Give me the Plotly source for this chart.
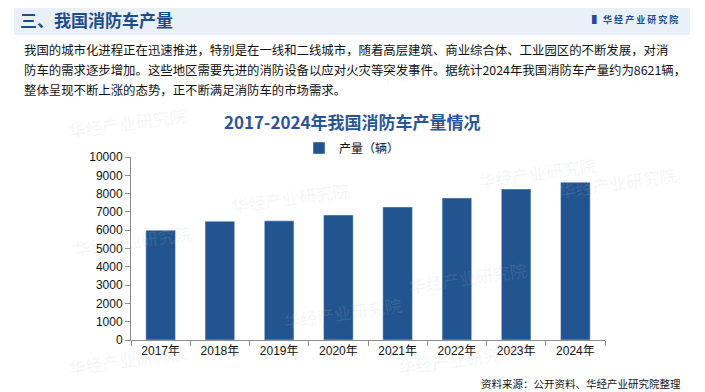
import plotly.graph_objects as go

years = ["2017年", "2018年", "2019年", "2020年", "2021年", "2022年", "2023年", "2024年"]
production = [6000, 6490, 6510, 6830, 7270, 7760, 8250, 8621]
y_ticks = [0, 1000, 2000, 3000, 4000, 5000, 6000, 7000, 8000, 9000, 10000]
y_tick_text = [str(v) for v in y_ticks]

OFF = 8  # page body margin
W, H = 705 - OFF, 392 - OFF
L = 131 - OFF
T = 157 - OFF
B = H - (340 - OFF)
R = W - (605 - OFF)
PW, PH = W - L - R, H - T - B

def px(x):
    return (x - OFF - L) / PW

def py(y):
    return 1 - (y - OFF - T) / PH

BAR = "#22548f"
TITLE = "#2a5596"
CJK = "Noto Sans CJK SC"
NUM = "Liberation Sans, Noto Sans CJK SC"

fig = go.Figure()
fig.add_trace(go.Bar(x=years, y=production, marker_color=BAR, name="产量（辆）",
                     showlegend=True))

shapes = [
    dict(type="rect", xref="paper", yref="paper", x0=px(14), x1=px(690), y0=py(5), y1=py(35),
         fillcolor="#eaf0f8", line_width=0, layer="below"),
]

ann = []
wm = [(500, 45), (65, 100), (600, 150), (290, 175), (70, 240), (530, 300), (280, 335),
      (65, 382), (520, 382), (680, 160)]
for (x, y) in wm:
    ann.append(dict(text="华经产业研究院", x=px(x), y=py(y), xref="paper", yref="paper",
                    showarrow=False, textangle=-8,
                    font=dict(family=CJK, size=17, color="rgba(190,195,205,0.16)")))

ann += [
    dict(text="<b>三、我国消防车产量</b>", x=px(18), y=py(20), xref="paper", yref="paper",
         xanchor="left", yanchor="middle", showarrow=False,
         font=dict(family=CJK, size=17, color="#1f4d8c")),
    dict(text="<b>▌ 华 经 产 业 研 究 院</b>", x=px(680), y=py(20), xref="paper", yref="paper",
         xanchor="right", yanchor="middle", showarrow=False,
         font=dict(family=CJK, size=9, color="#1f4d8c")),
]
lines = [
    "我国的城市化进程正在迅速推进，特别是在一线和二线城市，随着高层建筑、商业综合体、工业园区的不断发展，对消",
    "防车的需求逐步增加。这些地区需要先进的消防设备以应对火灾等突发事件。据统计2024年我国消防车产量约为8621辆，",
    "整体呈现不断上涨的态势，正不断满足消防车的市场需求。",
]
for i, t in enumerate(lines):
    ann.append(dict(text=t, x=px(22), y=py(50 + 20 * i), xref="paper", yref="paper",
                    xanchor="left", yanchor="middle", showarrow=False,
                    font=dict(family=CJK, size=12.4, color="#111111")))
ann += [
    dict(text="<b>2017-2024年我国消防车产量情况</b>", x=px(352), y=py(121), xref="paper", yref="paper",
         xanchor="center", yanchor="middle", showarrow=False,
         font=dict(family=CJK, size=17, color=TITLE)),
    dict(text="资料来源：公开资料、华经产业研究院整理", x=px(683), y=py(383), xref="paper", yref="paper",
         xanchor="right", yanchor="middle", showarrow=False,
         font=dict(family=CJK, size=10.5, color="#111111")),
]

fig.update_layout(
    width=W, height=H,
    margin=dict(l=L, r=R, t=T, b=B, pad=0),
    paper_bgcolor="white", plot_bgcolor="white",
    bargap=0.5,
    showlegend=True,
    legend=dict(orientation="h", x=px(352), y=py(148), xanchor="center", yanchor="middle",
                font=dict(family=CJK, size=12, color="#111111"), itemwidth=30,
                bgcolor="rgba(0,0,0,0)"),
    shapes=shapes,
    annotations=ann,
    xaxis=dict(type="category", showline=True, linecolor="#8c8c8c", linewidth=1,
               ticks="outside", tickson="boundaries", ticklen=5, tickcolor="#8c8c8c",
               tickfont=dict(family=NUM, size=12, color="#111111"), showgrid=False),
    yaxis=dict(range=[0, 10000], tickvals=y_ticks, ticktext=y_tick_text, showline=True,
               linecolor="#8c8c8c", linewidth=1, ticks="outside", ticklen=5,
               tickcolor="#8c8c8c",
               tickfont=dict(family=NUM, size=12, color="#111111"), showgrid=False,
               zeroline=False),
)

fig.write_html("out.html")
